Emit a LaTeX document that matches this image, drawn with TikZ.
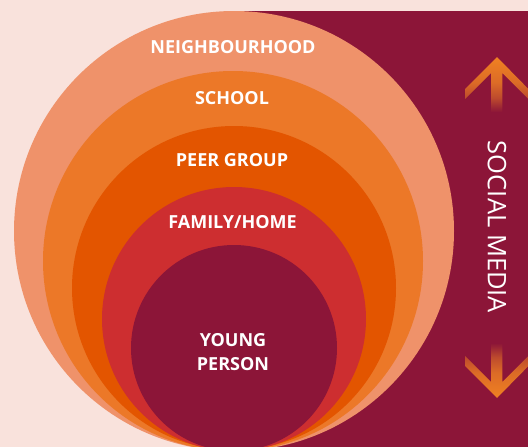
\documentclass[tikz,border=0pt]{standalone}
\usepackage{fontspec}
\setsansfont{Open Sans}
\usepackage{xcolor}
\usepackage{tikz}
\usetikzlibrary{positioning}

\definecolor{bgpink}{HTML}{F9E2DC}
\definecolor{smmaroon}{HTML}{8C1538}
\definecolor{smorange}{HTML}{F08122}
\definecolor{hoodcol}{HTML}{EF926A}
\definecolor{schoolcol}{HTML}{EC7828}
\definecolor{peercol}{HTML}{E35500}
\definecolor{familycol}{HTML}{CD2E30}

\pgfdeclareverticalshading{mediaglow}{100bp}{color(0bp)=(smmaroon); color(25bp)=(smmaroon); color(38bp)=(smorange!50!smmaroon); color(52bp)=(smorange!80!smmaroon); color(75bp)=(smorange); color(100bp)=(smorange)}

\begin{document}
\begin{tikzpicture}[x=1pt,y=-1pt,
  ringlabel/.style={text=white, inner sep=0pt, font=\sffamily\bfseries\fontsize{18}{23.5}\selectfont},
  medialabel/.style={text=white, inner sep=0pt, rotate=-90, font=\sffamily\fontsize{25.5}{30}\selectfont}]
\useasboundingbox (0,0) rectangle (528,447);
\clip (0,0) rectangle (528,447);
\fill[bgpink] (0,0) rectangle (528,447);
\fill[smmaroon] (227,11) rectangle (528,447);
\fill[hoodcol] (234,231) circle (220);
\fill[schoolcol] (233,261) circle (190);
\fill[peercol] (234,288) circle (162);
\fill[familycol] (234,319) circle (132);
\fill[smmaroon] (234,348) circle (103);
\node[ringlabel] (hood) at (233,47) {NEIGHBOURHOOD};
\node[ringlabel] (school) at (232,98.5) {SCHOOL};
\node[ringlabel] (peer) at (232,160) {PEER GROUP};
\node[ringlabel] (family) at (232.5,222) {FAMILY/HOME};
\node[ringlabel, align=center] (young) at (233,352) {YOUNG\\PERSON};
\node[medialabel] (media) at (497,227) {SOCIAL MEDIA};
\shade[shading=mediaglow] (497,57) -- (465,89) -- (465,99) -- (491,73) -- (491,112) -- (502.4,112) -- (502.4,73) -- (528.4,99) -- (528.4,89) -- cycle;
\shade[shading=mediaglow, shading angle=180] (497,398) -- (465,366) -- (465,356) -- (491,382) -- (491,343) -- (502.4,343) -- (502.4,382) -- (528.4,356) -- (528.4,366) -- cycle;
\end{tikzpicture}
\end{document}
